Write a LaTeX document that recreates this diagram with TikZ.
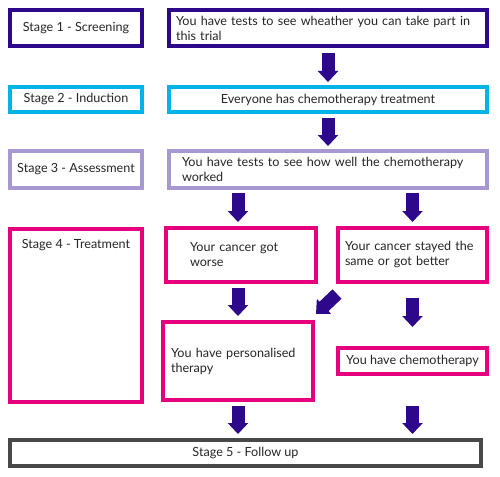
\documentclass[tikz,border=0pt]{standalone}
\usepackage{fontspec}
\setmainfont{Lato}
\usetikzlibrary{arrows.meta,calc}
\definecolor{dpurple}{RGB}{46,8,138}
\definecolor{cyanb}{RGB}{0,180,232}
\definecolor{lpurple}{RGB}{168,152,210}
\definecolor{magb}{RGB}{230,0,126}
\definecolor{greyb}{RGB}{72,72,72}
\tikzset{txt/.style={font=\fontsize{12.6}{15}\selectfont, text=black!85}}
\begin{document}
\begin{tikzpicture}[x=1pt,y=-1pt,
  box/.style={draw, line width=4pt, fill=white, inner sep=0pt, outer sep=0pt, anchor=north west, txt},
  bigarrow/.style={draw=dpurple, line width=13pt, -{Triangle[width=20pt,length=11pt]}, dpurple}
]
\useasboundingbox (0,0) rectangle (500,476);
% left stage boxes
\node[box, draw=dpurple, minimum width=132pt, minimum height=36pt] (s1) at (10,10) {Stage 1 - Screening};
\node[box, draw=cyanb, minimum width=132pt, minimum height=25pt] (s2) at (10,87) {Stage 2 - Induction};
\node[box, draw=lpurple, minimum width=132pt, minimum height=37pt] (s3) at (10,151) {Stage 3 - Assessment};
\node[box, draw=magb, minimum width=132pt, minimum height=173pt] (s4) at (10,229) {};
\node[txt] (s4t) at ([yshift=-16pt]s4.north) {Stage 4 - Treatment};
% right boxes
\node[box, draw=dpurple, minimum width=318pt, minimum height=36pt, text width=304pt, align=left] (r1) at (169,10)
  {You have tests to see wheather you can take part in\\this trial};
\node[box, draw=cyanb, minimum width=318pt, minimum height=25pt] (r2) at (169,87)
  {Everyone has chemotherapy treatment};
\node[box, draw=lpurple, minimum width=318pt, minimum height=37pt, text width=292pt, align=left] (r3) at (169,151)
  {You have tests to see how well the chemotherapy\\worked};
\node[box, draw=magb, minimum width=150pt, minimum height=54pt, text width=102pt, align=left] (worse) at (166,228)
  {Your cancer got\\worse};
\node[box, draw=magb, minimum width=149pt, minimum height=54pt, text width=135pt, align=left] (stayed) at (338,228)
  {Your cancer stayed the\\same or got better};
\node[box, draw=magb, minimum width=150pt, minimum height=78pt, text width=134pt, align=left] (pers) at (163,322)
  {You have personalised\\therapy};
\node[box, draw=magb, minimum width=149pt, minimum height=26pt] (chemo) at (338,348)
  {You have chemotherapy};
\node[box, draw=greyb, minimum width=471pt, minimum height=26pt] (s5) at (10,440)
  {Stage 5 - Follow up};
% arrows
\draw[bigarrow, shorten <=7pt, shorten >=5pt] (r1.south) -- (r2.north);
\draw[bigarrow, shorten <=6pt, shorten >=5pt] (r2.south) -- (r3.north);
\draw[bigarrow, shorten <=5pt, shorten >=6pt] (pers.north |- r3.south) -- (pers.north |- worse.north);
\draw[bigarrow, shorten <=5pt, shorten >=6pt] (chemo.north |- r3.south) -- (chemo.north |- stayed.north);
\draw[bigarrow, shorten <=6pt, shorten >=6pt] (pers.north |- worse.south) -- (pers.north);
\draw[bigarrow, shorten <=16pt, shorten >=21pt] (chemo.north |- stayed.south) -- (chemo.north);
\draw[bigarrow] ([shift={(-1,12)}]stayed.south west) -- ([shift={(3,-8)}]pers.north east);
\draw[bigarrow, shorten <=6pt, shorten >=6pt] (pers.south) -- (pers.south |- s5.north);
\draw[bigarrow, shorten <=32pt, shorten >=6pt] (chemo.south) -- (chemo.south |- s5.north);
\end{tikzpicture}
\end{document}
